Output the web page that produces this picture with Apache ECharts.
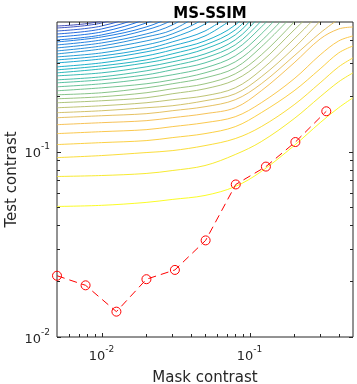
<!DOCTYPE html>
<html>
<head>
<meta charset="utf-8">
<script src="https://cdn.jsdelivr.net/npm/echarts@6/dist/echarts.min.js"></script>
<style>html,body{margin:0;padding:0;background:#fff}#c{width:357px;height:384px}</style>
</head>
<body>
<div id="c"></div>
<script>
// ---- data ----
const X_MIN = 0.005, X_MAX = 0.5, Y_MIN = 0.01, Y_MAX = 0.5;
const X = [0.005, 0.01, 0.02, 0.03, 0.05, 0.08, 0.12, 0.2, 0.3, 0.4, 0.5];

// contour lines, bottom (yellow) to top (blue); y values at X
const L01 = [0.0506,0.0513,0.0532,0.0552,0.0580,0.0648,0.0781,0.1077,0.1432,0.1724,0.1951];
const L02 = [0.0734,0.0743,0.0762,0.0790,0.0841,0.0964,0.1132,0.1505,0.1976,0.2379,0.2659];
const L03 = [0.0928,0.0952,0.0988,0.1012,0.1077,0.1175,0.1363,0.1789,0.2349,0.2864,0.3202];
const L04 = [0.1091,0.1118,0.1146,0.1189,0.1250,0.1363,0.1621,0.2128,0.2794,0.3406,0.3714];
const L05 = [0.1250,0.1281,0.1313,0.1363,0.1432,0.1542,0.1834,0.2469,0.3323,0.3952,0.4204];
const L06 = [0.1397,0.1432,0.1468,0.1523,0.1601,0.1724,0.2128,0.3010,0.4051,0.4585,0.4699];
const L07 = [0.1523,0.1561,0.1601,0.1661,0.1746,0.1904,0.2321,0.3282,0.4363,0.5189];
const L08 = [0.1621,0.1661,0.1724,0.1767,0.1880,0.2050,0.2531,0.3624,0.5062];
const L09 = [0.1724,0.1767,0.1834,0.1904,0.2000,0.2208,0.2760,0.4051,0.5589];
const L10 = [0.1834,0.1880,0.1951,0.2050,0.2181,0.2438,0.3047,0.4528,0.6170];
const L11 = [0.1927,0.1976,0.2076,0.2181,0.2321,0.2626,0.3323,0.4999,0.716];
const L12 = [0.2025,0.2076,0.2208,0.2321,0.2500,0.2829,0.3669,0.5520];
const L13 = [0.2128,0.2208,0.2321,0.2438,0.2659,0.3047,0.3952,0.6020];
const L14 = [0.2236,0.2321,0.2469,0.2594,0.2829,0.3282,0.4309,0.6646];
const L15 = [0.2349,0.2438,0.2594,0.2760,0.3010,0.3535,0.4699,0.7159];
const L16 = [0.2438,0.2531,0.2726,0.2900,0.3202,0.3761,0.5062,0.781];
const L17 = [0.2562,0.2659,0.2864,0.3047,0.3364,0.4001,0.5452,0.831];
const L18 = [0.2659,0.2794,0.3010,0.3202,0.3579,0.4256,0.5872,0.86];
const L19 = [0.2760,0.2900,0.3123,0.3364,0.3761,0.4528,0.6325];
const L20 = [0.2864,0.3010,0.3282,0.3535,0.3952,0.4817,0.6813];
const L21 = [0.3010,0.3162,0.3449,0.3714,0.4204,0.5319];
const L22 = [0.3123,0.3282,0.3579,0.3903,0.4472,0.5729];
const L23 = [0.3242,0.3406,0.3761,0.4101,0.4877,0.6484];
const L24 = [0.3364,0.3579,0.3952,0.4309,0.5253,0.7159];
const L25 = [0.3491,0.3714,0.4152,0.4528,0.5729];
const L26 = [0.3624,0.3855,0.4309,0.4817,0.6170];
const L27 = [0.3761,0.4001,0.4528,0.5125,0.6813];
const L28 = [0.3903,0.4152,0.4699,0.5452,0.781];
const L29 = [0.4001,0.4256,0.4938,0.5800,0.831];
const L30 = [0.4152,0.4417,0.5189,0.6170];
const L31 = [0.4309,0.4585,0.5452,0.6646];
const L32 = [0.4472,0.4758,0.5729,0.7159];
const L33 = [0.4642,0.4938,0.6020,0.752];
const L34 = [0.4758,0.5062,0.6325];
const contours = [L01,L02,L03,L04,L05,L06,L07,L08,L09,L10,L11,L12,L13,L14,L15,L16,L17,
                  L18,L19,L20,L21,L22,L23,L24,L25,L26,L27,L28,L29,L30,L31,L32,L33,L34];

// measured thresholds (red dashed line)
const maskContrast = [0.005, 0.0078, 0.0126, 0.0201, 0.0313, 0.0505, 0.0807, 0.129, 0.204, 0.330];
const testContrast = [0.0214, 0.0190, 0.0137, 0.0205, 0.0230, 0.0332, 0.0665, 0.0830, 0.1126, 0.165];

// ticks
const xMajorTicks = [0.01, 0.1];
const xMinorTicks = [0.006,0.007,0.008,0.009,0.02,0.03,0.04,0.05,0.06,0.07,0.08,0.09,0.2,0.3,0.4];
const yMajorTicks = [0.01, 0.1];
const yMinorTicks = [0.02,0.03,0.04,0.05,0.06,0.07,0.08,0.09,0.2,0.3,0.4];

// ---- styling helpers ----
const parulaStops = [
  [ 53, 42,135],[ 50, 67,186],[  3, 99,225],[ 13,117,220],[ 20,133,212],[  9,152,209],
  [  6,167,198],[ 21,177,180],[ 56,185,158],[101,190,134],[146,191,115],[183,189,100],
  [217,186, 86],[248,187, 68],[252,206, 46],[245,228, 29],[249,251, 14]];
const parulaPos = [0,4,8,12,16,20,24,28,32,36,40,44,48,52,56,60,63].map(v => v / 63);
function cmap(t){
  t = Math.max(0, Math.min(1, t));
  for (let i = 0; i < parulaPos.length - 1; i++){
    if (t <= parulaPos[i+1]) {
      const f = (t - parulaPos[i]) / (parulaPos[i+1] - parulaPos[i]);
      const a = parulaStops[i], b = parulaStops[i+1];
      return 'rgb(' + [0,1,2].map(j => Math.round(a[j] + (b[j]-a[j]) * f)).join(',') + ')';
    }
  }
  return 'rgb(249,251,14)';
}
// colour position per line index (style only), matched by eye to the reference
const colourKnots = [[0,1.0],[3,0.88],[5,0.82],[8,0.70],[11,0.60],[15,0.50],[19,0.38],[22,0.30],[27,0.17],[33,0.05]];
function lineT(i){
  for (let k = 0; k < colourKnots.length - 1; k++){
    const a = colourKnots[k], b = colourKnots[k+1];
    if (i <= b[0]) return a[1] + (b[1]-a[1]) * (i - a[0]) / (b[0] - a[0]);
  }
  return 0.05;
}
const AX = '#262626';
const FONT = 'DejaVu Sans';

const series = [];
contours.forEach((ys, i) => {
  series.push({
    type: 'line', smooth: 0.35, symbol: 'none', silent: true, clip: true, z: 2,
    data: ys.map((y, j) => [X[j], y]),
    lineStyle: { width: 1, color: cmap(lineT(i)), opacity: 0.9 }
  });
});
series.push({
  type: 'line', z: 4, clip: false,
  data: maskContrast.map((x, i) => [x, testContrast[i]]),
  lineStyle: { color: '#ff0000', width: 1, type: [8, 5] },
  symbol: 'circle', symbolSize: 9, showAllSymbol: true,
  itemStyle: { color: 'rgba(0,0,0,0)', borderColor: '#ff0000', borderWidth: 1 }
});
function tickSeries(vals, axis, len){
  return {
    type: 'custom', silent: true, clip: false, z: 6,
    data: vals.map(v => axis === 'x' ? [v, Y_MIN] : [X_MIN, v]),
    renderItem: function(params, api){
      const cs = params.coordSys;
      const p = api.coord([api.value(0), api.value(1)]);
      const st = { stroke: AX, lineWidth: 1 };
      if (axis === 'x') {
        const x = Math.round(p[0]) + 0.5;
        return { type: 'group', children: [
          { type: 'line', shape: { x1: x, y1: cs.y + cs.height, x2: x, y2: cs.y + cs.height - len }, style: st },
          { type: 'line', shape: { x1: x, y1: cs.y, x2: x, y2: cs.y + len }, style: st }
        ]};
      }
      const y = Math.round(p[1]) + 0.5;
      return { type: 'group', children: [
        { type: 'line', shape: { x1: cs.x, y1: y, x2: cs.x + len, y2: y }, style: st },
        { type: 'line', shape: { x1: cs.x + cs.width, y1: y, x2: cs.x + cs.width - len, y2: y }, style: st }
      ]};
    }
  };
}
series.push(tickSeries(xMajorTicks, 'x', 4));
series.push(tickSeries(xMinorTicks, 'x', 3));
series.push(tickSeries(yMajorTicks, 'y', 4));
series.push(tickSeries(yMinorTicks, 'y', 3));

function powLabel(v){
  const e = Math.log10(v), r = Math.round(e);
  if (Math.abs(e - r) > 1e-6) return '';
  return '{b|10}{s|' + r + '}';
}
const rich = {
  b: { fontSize: 13, fontFamily: FONT, color: AX, lineHeight: 18, verticalAlign: 'bottom' },
  s: { fontSize: 9, fontFamily: FONT, color: AX, lineHeight: 18, verticalAlign: 'top' }
};

const chart = echarts.init(document.getElementById('c'), null, { renderer: 'canvas' });
chart.setOption({
  animation: false,
  backgroundColor: '#ffffff',
  title: {
    text: 'MS-SSIM', left: 205, top: 2, textAlign: 'center',
    textStyle: { fontSize: 15, fontWeight: 'bold', fontFamily: FONT, color: '#000' }
  },
  grid: { left: 57, right: 4, top: 22, bottom: 47, containLabel: false, outerBoundsMode: 'none',
          show: true, borderColor: AX, borderWidth: 1, backgroundColor: 'transparent' },
  xAxis: {
    type: 'log', logBase: 10, min: X_MIN, max: X_MAX,
    name: 'Mask contrast', nameLocation: 'middle', nameGap: 34, nameMoveOverlap: false,
    nameTextStyle: { fontSize: 15, fontFamily: FONT, color: AX },
    axisLine: { show: false }, axisTick: { show: false }, splitLine: { show: false }, minorTick: { show: false },
    axisLabel: { formatter: powLabel, rich: rich, margin: 8, hideOverlap: false }
  },
  yAxis: {
    type: 'log', logBase: 10, min: Y_MIN, max: Y_MAX,
    name: 'Test contrast', nameLocation: 'middle', nameGap: 37, nameRotate: 90, nameMoveOverlap: false,
    nameTextStyle: { fontSize: 15, fontFamily: FONT, color: AX },
    axisLine: { show: false }, axisTick: { show: false }, splitLine: { show: false }, minorTick: { show: false },
    axisLabel: { formatter: powLabel, rich: rich, margin: 7, hideOverlap: false }
  },
  series: series
});
</script>
</body>
</html>
